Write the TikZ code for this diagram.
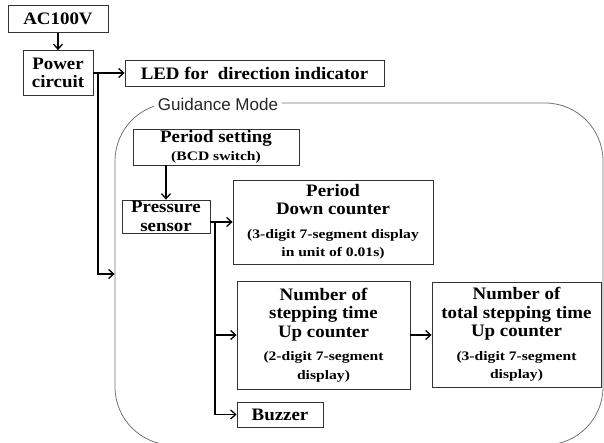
\documentclass[tikz,border=0pt]{standalone}
\usepackage{fontspec}
\usetikzlibrary{arrows.meta}
\setmainfont[FakeStretch=1.08]{Liberation Serif}
\setsansfont{Liberation Sans}
\newfontfamily\detallefont[FakeStretch=1.2]{Liberation Serif}
\newcommand{\detalle}{\detallefont\fontsize{13}{15}\selectfont}
\begin{document}
\begin{tikzpicture}[
    x=1pt, y=-1pt,
    % Estilos de las cajas y conectores
    bloque/.style={rectangle, draw=black!80, line width=0.8pt, align=center, inner sep=1pt, font=\bfseries\fontsize{17.5}{18.5}\selectfont},
    modo/.style={rectangle, rounded corners=58pt, draw=black!55, line width=0.8pt, minimum width=488pt, minimum height=342pt},
    titulo/.style={fill=white, inner sep=4pt, font=\sffamily\fontsize{17}{19}\selectfont, text=black!85},
    line/.style={-, line width=1.3pt, draw=black},
    arrow/.style={->, line width=1.3pt, >={Straight Barb[length=5pt, width=9pt]}, draw=black}
]
\useasboundingbox (0,0) rectangle (604,443);

% --- ALIMENTACION ---
\node[bloque, minimum width=100pt, minimum height=27pt] (ac) at (58,19) {AC100V};
\node[bloque, minimum width=70pt, minimum height=45pt] (power) at (58,73) {Power\\circuit};
\node[bloque, minimum width=259pt, minimum height=26pt] (led) at (254.5,73) {LED for\ \ direction indicator};

\draw[arrow] (ac) -- (power);
\draw[arrow] (power.east) -- (led.west);

% --- MODO GUIADO ---
\node[modo] (mode) at (359,274) {};
\node[titulo] (modetitle) at (218,104) {Guidance Mode};

\coordinate (j1) at (98,73);
\draw[arrow] (j1) |- (mode.west);

\node[bloque, minimum width=166pt, minimum height=36pt] (period) at (216,147) {Period setting\\\detalle (BCD switch)};
\node[bloque, minimum width=88pt, minimum height=33pt] (press) at (166,216.5) {Pressure\\sensor};

\draw[arrow] (press.north |- period.south) -- (press.north);

% --- CONTADORES ---
\node[bloque, minimum width=200pt, minimum height=84pt] (down) at (333,222) {Period\\Down counter\\[5pt]\detalle (3-digit 7-segment display\\\detalle in unit of 0.01s)};
\node[bloque, minimum width=173pt, minimum height=108pt] (step) at (323.5,335) {Number of\\stepping time\\Up counter\\[5pt]\detalle (2-digit 7-segment\\\detalle display)};
\node[bloque, minimum width=169pt, minimum height=105pt] (total) at (516.5,334.5) {Number of\\total stepping time\\Up counter\\[5pt]\detalle (3-digit 7-segment\\\detalle display)};
\node[bloque, minimum width=86pt, minimum height=25pt] (buzz) at (280,414.5) {Buzzer};

\coordinate (j2) at (215,222);
\draw[arrow] (press.east |- j2) -- (down.west);
\draw[arrow] (j2) |- (step.west);
\draw[arrow] (j2) |- (buzz.west);
\draw[arrow] (step.east) -- (step.east -| total.west);

\end{tikzpicture}
\end{document}
